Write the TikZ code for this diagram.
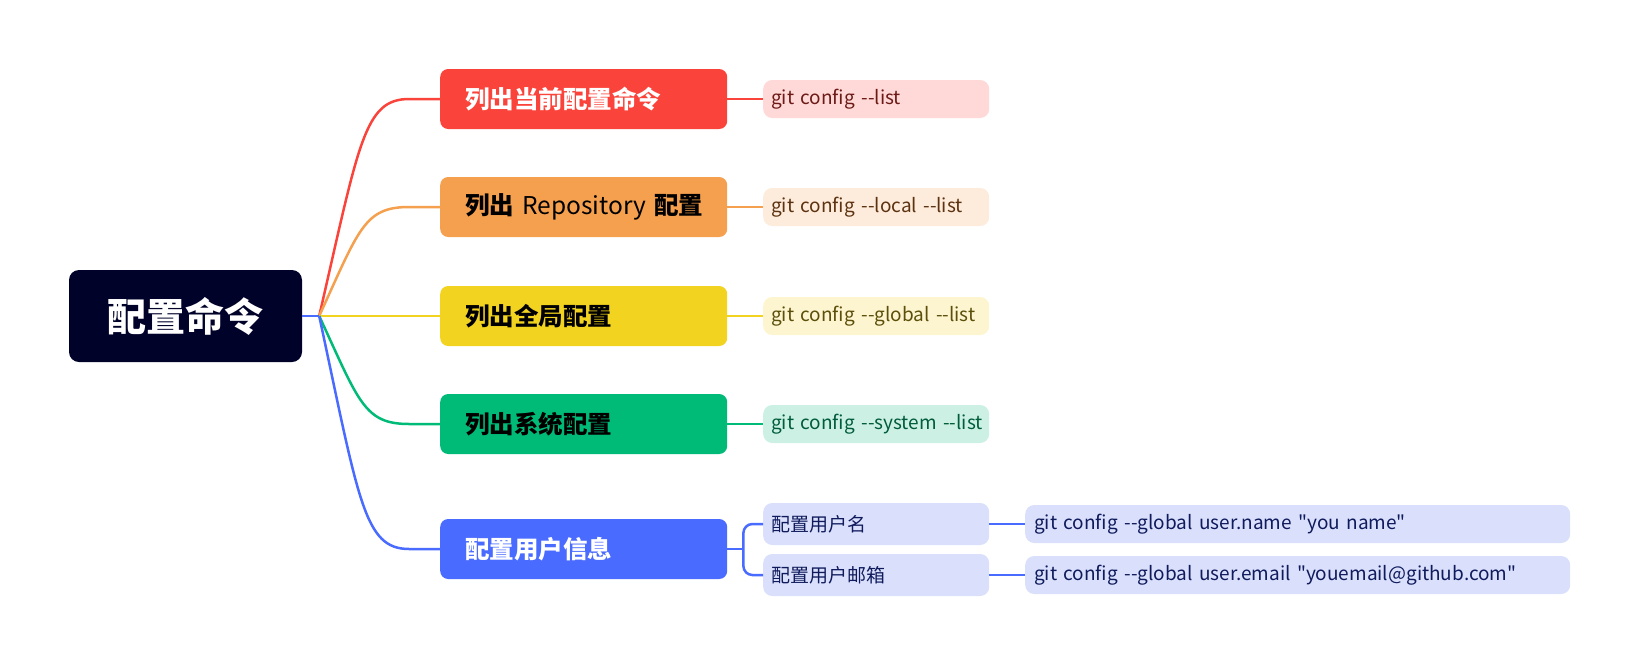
\documentclass[tikz,border=0pt]{standalone}
\usepackage{fontspec}
\newfontfamily\cjk{Noto Sans CJK SC}
\usetikzlibrary{calc}
\definecolor{rootc}{HTML}{000229}
\definecolor{redc}{HTML}{FA443B}
\definecolor{redl}{HTML}{FFD9D8}
\definecolor{redt}{HTML}{6B1A16}
\definecolor{orac}{HTML}{F5A04E}
\definecolor{oral}{HTML}{FDEBDC}
\definecolor{orat}{HTML}{5C3310}
\definecolor{yelc}{HTML}{F2D320}
\definecolor{yell}{HTML}{FCF5D0}
\definecolor{yelt}{HTML}{5C4F0A}
\definecolor{grec}{HTML}{00BB77}
\definecolor{grel}{HTML}{CCF1E4}
\definecolor{gret}{HTML}{005C3A}
\definecolor{bluc}{HTML}{4A6BFF}
\definecolor{blul}{HTML}{DAE0FC}
\definecolor{blut}{HTML}{0F1B5C}
\tikzset{
  rootbox/.style={fill=rootc, text=white, rounded corners=10pt, minimum width=233pt, minimum height=92pt, inner sep=0pt, font=\cjk\bfseries\fontsize{39}{42}\selectfont},
  branchbox/.style={fill=#1, rounded corners=8pt, minimum width=287pt, minimum height=60pt, inner xsep=25pt, inner ysep=0pt, text width=237pt, align=left, anchor=west, font=\cjk\bfseries\fontsize{24.5}{28}\selectfont},
  leafbox/.style={fill=#1, rounded corners=9pt, minimum width=226pt, minimum height=38pt, inner xsep=8pt, inner ysep=0pt, text width=210pt, align=left, anchor=west, font=\cjk\fontsize{19}{22}\selectfont},
  finalbox/.style={fill=#1, rounded corners=9pt, minimum width=545pt, minimum height=38pt, inner xsep=9pt, inner ysep=0pt, text width=527pt, align=left, anchor=west, font=\cjk\fontsize{19}{22}\selectfont},
  conn/.style={draw=#1, line width=2.5pt},
}
\newcommand{\dd}{-\kern0pt-}
\hfuzz=100pt
\begin{document}
\begin{tikzpicture}[x=1pt,y=-1pt]
\useasboundingbox (0,0) rectangle (1639,665);
\node[rootbox] (root) at (185.5,316) {配置命令};
\node[branchbox=redc, text=white] (b1) at (440,99) {\mbox{列出当前配置命令}};
\node[branchbox=orac, text=black] (b2) at (440,207) {\mbox{列出 {\mdseries Repository} 配置}};
\node[branchbox=yelc, text=black] (b3) at (440,316) {\mbox{列出全局配置}};
\node[branchbox=grec, text=black] (b4) at (440,424) {\mbox{列出系统配置}};
\node[branchbox=bluc, text=white] (b5) at (440,549) {\mbox{配置用户信息}};
\node[leafbox=redl, text=redt] (l1) at (763,99) {\mbox{git config \dd list}};
\node[leafbox=oral, text=orat] (l2) at (763,207) {\mbox{git config \dd local \dd list}};
\node[leafbox=yell, text=yelt] (l3) at (763,316) {\mbox{git config \dd global \dd list}};
\node[leafbox=grel, text=gret] (l4) at (763,424) {\mbox{git config \dd system \dd list}};
\node[leafbox=blul, text=blut, minimum height=42pt] (u1) at (763,524) {\mbox{配置用户名}};
\node[leafbox=blul, text=blut, minimum height=42pt] (u2) at (763,575) {\mbox{配置用户邮箱}};
\node[finalbox=blul, text=blut] (f1) at (1025,524) {\mbox{git config \dd global user.name "you name"}};
\node[finalbox=blul, text=blut] (f2) at (1025,575) {\mbox{git config \dd global user.email "youemail@github.com"}};
\coordinate (j) at ($(root.east)+(17,0)$);
\coordinate (k) at ($(b5.east)+(16,0)$);
\foreach \b/\c in {b1/redc,b2/orac,b3/yelc,b4/grec,b5/bluc}{
  \draw[conn=\c] (j) .. controls ($(j |- \b.west)!0.2!(j)+(40,0)$) and ($(j |- \b.west)+(45,0)$) .. ($(j |- \b.west)+(90,0)$) -- (\b.west);
}
\draw[conn=bluc] (root.east) -- (j);
\draw[conn=redc] (b1.east) -- (l1.west);
\draw[conn=orac] (b2.east) -- (l2.west);
\draw[conn=yelc] (b3.east) -- (l3.west);
\draw[conn=grec] (b4.east) -- (l4.west);
\draw[conn=bluc] (b5.east) -- (k);
\draw[conn=bluc, rounded corners=9pt] (k) |- (u1.west);
\draw[conn=bluc, rounded corners=9pt] (k) |- (u2.west);
\draw[conn=bluc] (u1.east) -- (f1.west);
\draw[conn=bluc] (u2.east) -- (f2.west);
\end{tikzpicture}
\end{document}
